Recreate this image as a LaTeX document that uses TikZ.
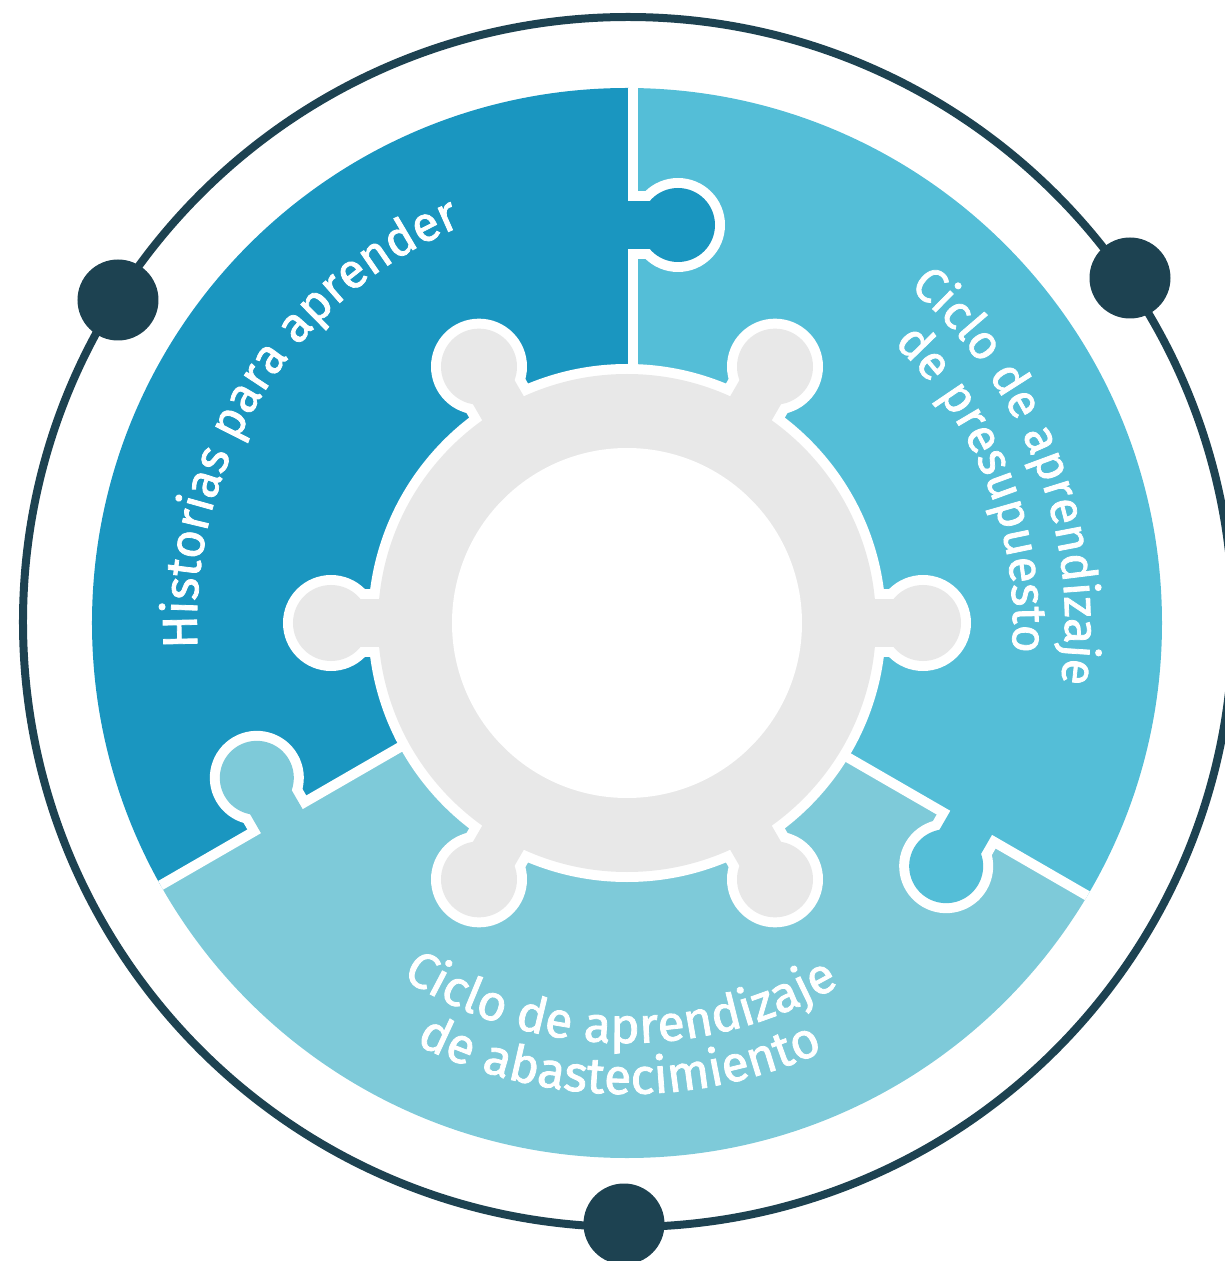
\documentclass[tikz,border=0pt]{standalone}
\usepackage{fontspec}
\setmainfont{Fira Sans}
\newfontfamily\labelfont{Fira Sans}[FakeBold=1.6]
\usetikzlibrary{decorations.text,calc}
\definecolor{cdark}{HTML}{1A96C0}
\definecolor{cmid}{HTML}{54BED7}
\definecolor{clight}{HTML}{7ECAD9}
\definecolor{cgrey}{HTML}{E8E8E8}
\definecolor{cnavy}{HTML}{1D4251}
\tikzset{
  dotnode/.style={circle, fill=cnavy, minimum size=81pt, inner sep=0pt},
  band/.style={white, line width=10pt},
  curvetext/.style 2 args={decorate, decoration={text along path, text align=center, text color=white,
     text={|\labelfont\fontsize{#1pt}{#1pt}\selectfont|#2}}}
}
\newcommand\mytab[2]{%
  \begin{scope}[rotate=#1]
    \fill[white] (398,-51) circle (47);
    \fill[white] (364,-6) rectangle (432,-51);
  \end{scope}}
\newcommand\mytabfill[2]{%
  \begin{scope}[rotate=#1]
    \fill[#2] (398,-51) circle (37);
    \fill[#2] (374,0) rectangle (422,-51);
  \end{scope}}
\begin{document}
\begin{tikzpicture}[x=1pt,y=1pt]
\useasboundingbox (-627,-638) rectangle (598,623);
\coordinate (O) at (0,0);
% outer ring
\draw[cnavy, line width=8pt] (1,1) circle (605);
\node[dotnode] (d1) at (-509,323) {};
\node[dotnode] (d2) at (503,345) {};
\node[dotnode] (d3) at (-3,-601) {};
% pieces
\begin{scope}
  \clip (O) circle (535);
  \fill[cdark] (0:6) -- ($(90:700)+(0:6)$) -- (150:1400) -- ($(210:700)+(120:6)$) -- (120:6) -- cycle;
  \fill[clight] (120:6) -- ($(210:700)+(120:6)$) -- (270:1400) -- ($(330:700)+(240:6)$) -- (240:6) -- cycle;
  \fill[cmid] (240:6) -- ($(330:700)+(240:6)$) -- (30:1400) -- ($(90:700)+(0:6)$) -- (0:6) -- cycle;
  \mytab{90}{cdark}
  \mytab{210}{clight}
  \mytab{330}{cmid}
  \draw[band] ($(90:150)+(0:6)$) -- ($(90:560)+(0:6)$);
  \draw[band] ($(210:150)+(120:6)$) -- ($(210:560)+(120:6)$);
  \draw[band] ($(330:150)+(240:6)$) -- ($(330:560)+(240:6)$);
  \mytabfill{90}{cdark}
  \mytabfill{210}{clight}
  \mytabfill{330}{cmid}
\end{scope}
% gear
\fill[white] (O) circle (259);
\foreach \a in {0,60,...,300} {
  \fill[white] (\a:296) circle (48);
  \begin{scope}[rotate=\a] \fill[white] (240,-34) rectangle (296,34); \end{scope}
}
\fill[cgrey] (O) circle (249);
\foreach \a in {0,60,...,300} {
  \fill[cgrey] (\a:296) circle (38);
  \begin{scope}[rotate=\a] \fill[cgrey] (240,-24) rectangle (296,24); \end{scope}
}
\fill[white] (O) circle (175);
% texts
\path[curvetext={49}{Historias para aprender}] (238:430) arc[start angle=238, end angle=58, radius=430];
\path[curvetext={48}{Ciclo de aprendizaje}] (111:438) arc[start angle=111, end angle=-69, radius=438];
\path[curvetext={48}{de presupuesto}] (111:386) arc[start angle=111, end angle=-69, radius=386];
\path[curvetext={50}{Ciclo de aprendizaje}] (179:420) arc[start angle=179, end angle=359, radius=420];
\path[curvetext={50}{de abastecimiento}] (179:471) arc[start angle=179, end angle=359, radius=471];
\end{tikzpicture}
\end{document}
